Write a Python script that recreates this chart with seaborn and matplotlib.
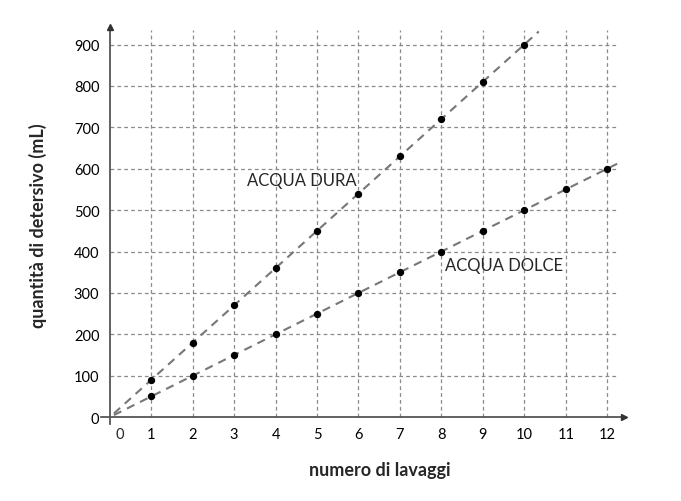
import numpy as np
import pandas as pd
import matplotlib.pyplot as plt
import seaborn as sns

# dati
lavaggi_dura = [1, 2, 3, 4, 5, 6, 7, 8, 9, 10]
ml_dura = [90, 180, 270, 360, 450, 540, 630, 720, 810, 900]
lavaggi_dolce = [1, 2, 3, 4, 5, 6, 7, 8, 9, 10, 11, 12]
ml_dolce = [50, 100, 150, 200, 250, 300, 350, 400, 450, 500, 550, 600]
x_ticks = [1, 2, 3, 4, 5, 6, 7, 8, 9, 10, 11, 12]
y_ticks = [0, 100, 200, 300, 400, 500, 600, 700, 800, 900]

sns.set_style("white")
plt.rcParams['font.family'] = ['Lato', 'DejaVu Sans']

df = pd.concat([
    pd.DataFrame({"lavaggi": lavaggi_dura, "ml": ml_dura, "acqua": "ACQUA DURA"}),
    pd.DataFrame({"lavaggi": lavaggi_dolce, "ml": ml_dolce, "acqua": "ACQUA DOLCE"}),
])

fig = plt.figure(figsize=(6.81, 5.02), dpi=100)
ax = fig.add_axes([0.149, 0.153, 0.767, 0.791])
ax.set_xlim(-0.2, 12.4)
ax.set_ylim(-17, 942)

# griglia tratteggiata
grid_kw = dict(color="#8a8a8a", lw=0.9, linestyles=(0, (3, 2.5)), zorder=1)
ax.vlines(x_ticks, 0, 935, **grid_kw)
ax.hlines(y_ticks[1:], 0, 12.25, **grid_kw)

# rette di tendenza
k_dura = ml_dura[-1] / lavaggi_dura[-1]
k_dolce = ml_dolce[-1] / lavaggi_dolce[-1]
xs = np.array([0.1, 10.35])
ax.plot(xs, k_dura * xs, color="#777777", lw=1.5, ls=(0, (4, 3)), zorder=2)
xs = np.array([0.1, 12.35])
ax.plot(xs, k_dolce * xs, color="#777777", lw=1.5, ls=(0, (4, 3)), zorder=2)

sns.scatterplot(data=df, x="lavaggi", y="ml", color="black", s=28,
                edgecolor="black", linewidth=0, legend=False, ax=ax, zorder=3)

# assi con frecce
for s in ["top", "right"]:
    ax.spines[s].set_visible(False)
ax.spines["left"].set_position(("data", 0))
ax.spines["bottom"].set_position(("data", 0))
for s in ["left", "bottom"]:
    ax.spines[s].set_color("#555555")
    ax.spines[s].set_linewidth(1.3)
ax.plot(12.4, 0, marker=">", color="#333333", markersize=5, clip_on=False, zorder=4)
ax.plot(0, 942, marker="^", color="#333333", markersize=5, clip_on=False, zorder=4)

ax.set_xticks(x_ticks)
ax.set_yticks(y_ticks)
ax.tick_params(axis="both", direction="out", length=4.5, width=1.1, color="#555555",
               labelsize=10.5, labelcolor="black")
ax.tick_params(axis="x", pad=2.5)
ax.tick_params(axis="y", pad=3)
ax.annotate("0", xy=(0.25, 0), xytext=(0, -7), textcoords="offset points",
            ha="center", va="top", fontsize=10.5)

ax.text(3.3, 572, "ACQUA DURA", fontsize=12, ha="left", va="center")
ax.text(8.08, 367, "ACQUA DOLCE", fontsize=12, ha="left", va="center")

ax.set_xlabel("")
ax.set_ylabel("")
fig.text(0.558, 0.063, "numero di lavaggi", fontsize=13, fontweight="bold",
         ha="center", va="center")
fig.text(0.055, 0.55, "quantità di detersivo (mL)", fontsize=13, fontweight="bold",
         ha="center", va="center", rotation=90)

fig.savefig("out.png", dpi=100)
